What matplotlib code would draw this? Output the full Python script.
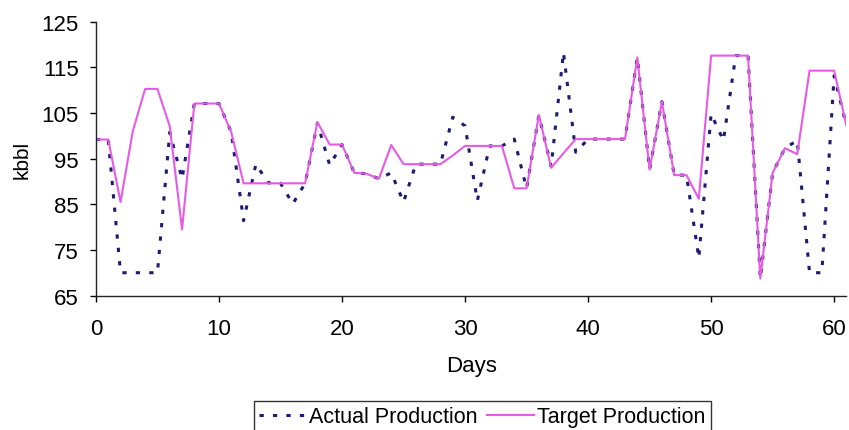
import matplotlib
matplotlib.use("Agg")
import matplotlib.pyplot as plt
import numpy as np

plt.rcParams.update({
    "font.family": ["Liberation Sans", "DejaVu Sans"],
    "font.size": 16,
})

days = np.arange(0, 62)

actual = [
    99.2, 99.2, 70, 70, 70, 70, 100.8, 90.6, 107.1, 107.1,
    107.1, 100.8, 81.4, 93.8, 89.7, 89.6, 85.1, 89.6, 102.8, 93.6,
    98.1, 91.9, 91.7, 90.6, 91.9, 85.5, 93.8, 93.8, 93.8, 104.1,
    102.2, 85.8, 97.8, 97.8, 99.3, 88.5, 104.5, 93.3, 118.3, 96.4,
    99.3, 99.3, 99.3, 99.3, 117.2, 92.6, 107.5, 91.4, 91.4, 73.2,
    104.8, 99.0, 117.6, 117.6, 68.7, 91.9, 97.3, 99.0, 70, 70,
    113.2, 102.2,
]

target = [
    99.2, 99.2, 85.5, 101.1, 110.3, 110.3, 102.1, 79.5, 107.1, 107.1,
    107.1, 100.8, 89.6, 89.6, 89.6, 89.6, 89.6, 89.6, 103.0, 98.1,
    98.1, 91.9, 91.7, 90.6, 98.0, 93.8, 93.8, 93.8, 93.8, 95.7,
    97.8, 97.8, 97.8, 97.8, 88.5, 88.5, 104.6, 93.0, 96.2, 99.3,
    99.3, 99.3, 99.3, 99.3, 117.2, 92.6, 107.5, 91.4, 91.4, 86.2,
    117.6, 117.6, 117.6, 117.6, 68.7, 91.9, 97.3, 96.0, 114.3, 114.3,
    114.3, 102.2,
]

fig = plt.figure(figsize=(8.49, 4.31), dpi=100)
ax = fig.add_axes([0.113, 0.312, 0.884, 0.635])

ax.plot(days, actual, color="#1c1c70", linestyle=(0, (1.4, 3.0)), linewidth=2.2,
        label="Actual Production")
ax.plot(days, target, color="#e65ae6", linestyle="-", linewidth=1.5,
        label="Target Production")

ax.set_xlim(0, 61)
ax.set_ylim(65, 125)
ax.set_xticks(range(0, 61, 10))
ax.set_yticks(range(65, 126, 10))
ax.tick_params(direction="out", length=4.5, width=1)
ax.tick_params(axis="x", pad=12)
ax.tick_params(axis="y", pad=8)
ax.set_xlabel("Days", labelpad=11)
ax.set_ylabel("kbbl", fontsize=15, labelpad=7)

for side in ["top", "right"]:
    ax.spines[side].set_visible(False)
for side in ["left", "bottom"]:
    ax.spines[side].set_linewidth(1)
    ax.spines[side].set_color("#222222")

leg = fig.legend(loc="upper center", bbox_to_anchor=(0.568, 0.068), ncol=2,
                 frameon=True, fancybox=False, edgecolor="black", fontsize=15.5,
                 handlelength=2.2, handletextpad=0.15, columnspacing=0.4,
                 borderpad=0.25, borderaxespad=0)
leg.get_frame().set_linewidth(1)

fig.savefig("out.png", dpi=100)
